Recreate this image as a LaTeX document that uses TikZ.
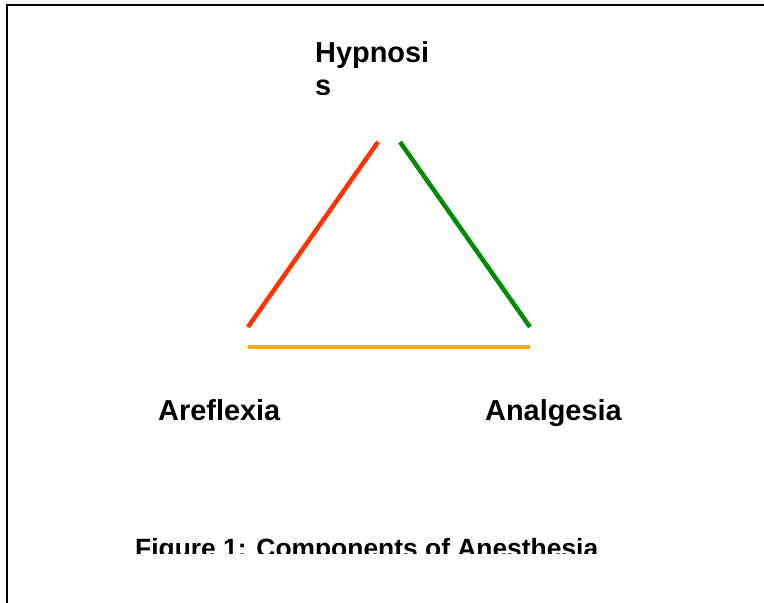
\documentclass[tikz,border=0pt]{standalone}
\usepackage{fontspec}
\setmainfont{Liberation Sans}
\definecolor{redl}{RGB}{255,51,0}
\definecolor{greenl}{RGB}{0,140,0}
\definecolor{orangel}{RGB}{255,170,0}
\begin{document}
\begin{tikzpicture}[x=1pt,y=-1pt,
  lbl/.style={inner sep=0pt, anchor=base west, font=\fontsize{28.9}{33}\selectfont\bfseries},
  captionlbl/.style={inner sep=0pt, anchor=base west, font=\fontsize{26.4}{30}\selectfont\bfseries},
  edge/.style={line width=4.5pt}]
\useasboundingbox (0,0) rectangle (764,603);
\draw[line width=2pt] (7,603) -- (7,5) -- (764,5);
\begin{scope}
  \clip (0,0) rectangle (764,94);
  \node[lbl] (hyp1) at (315,62) {Hypnosi};
  \node[lbl] (hyp2) at (315,95) {s};
\end{scope}
\node[lbl] (are) at (158,420) {Areflexia};
\node[lbl] (ana) at (485,420) {Analgesia};
\begin{scope}
  \clip (0,0) rectangle (764,553);
  \node[captionlbl] (fig) at (135,557) {Figure 1: Components of Anesthesia};
\end{scope}
\coordinate (r1) at (248,327);
\coordinate (r2) at (378,142);
\coordinate (g1) at (400,142);
\coordinate (g2) at (530,327);
\coordinate (o1) at (248,347);
\coordinate (o2) at (530,347);
\draw[edge, redl] (r1) -- (r2);
\draw[edge, greenl] (g1) -- (g2);
\draw[edge, orangel] (o1) -- (o2);
\end{tikzpicture}
\end{document}
